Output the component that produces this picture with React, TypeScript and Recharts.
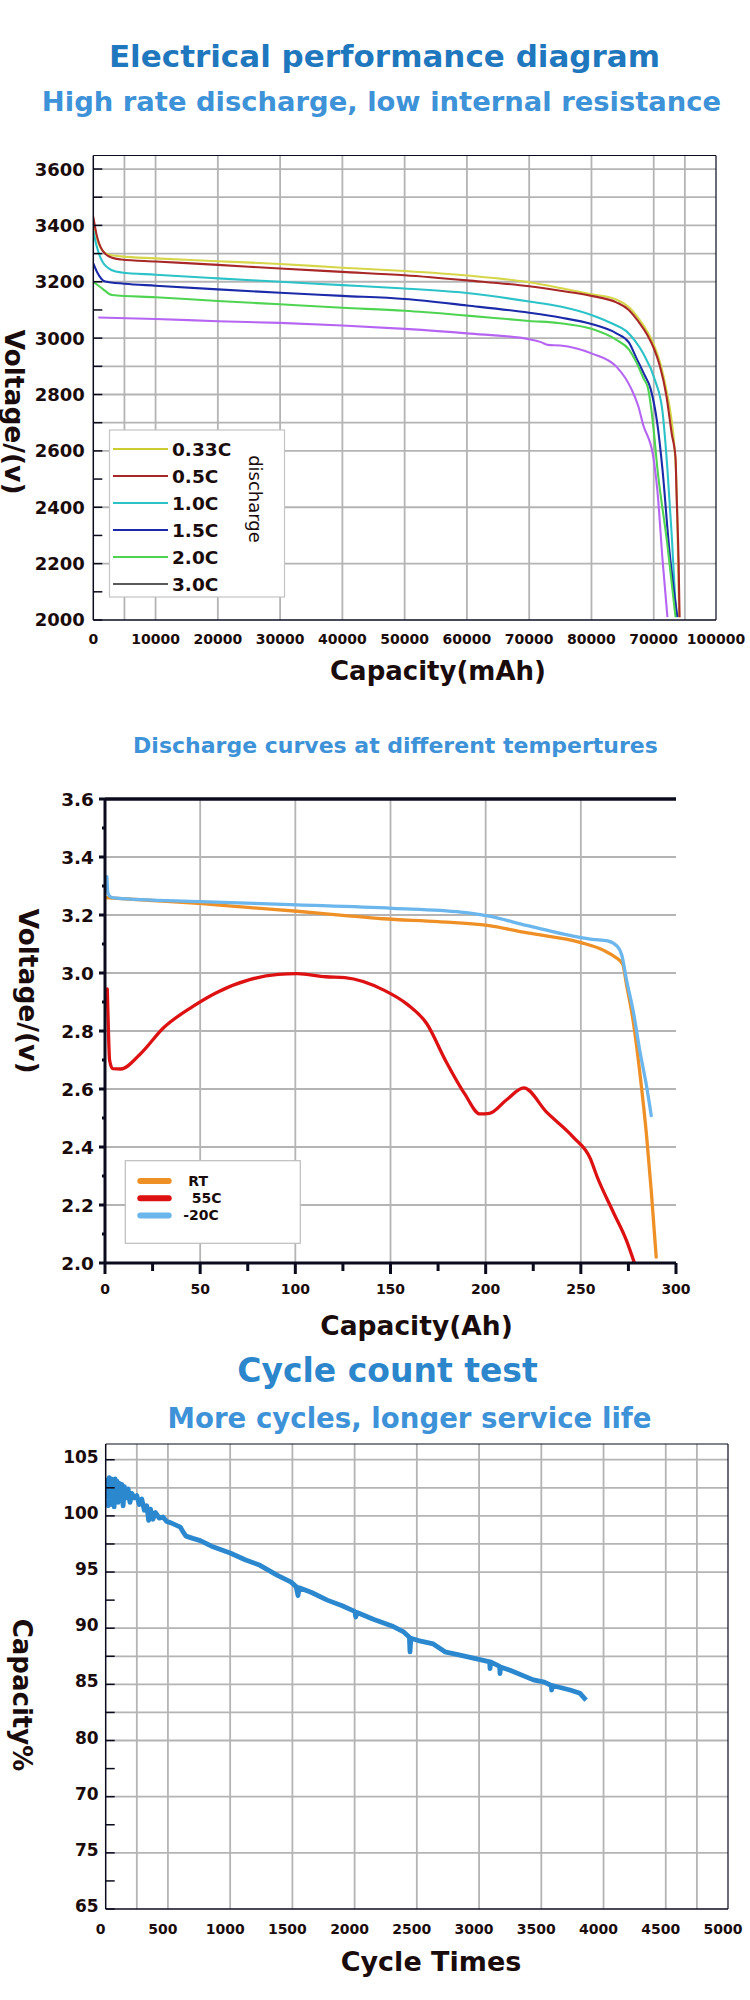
import React from 'react';
import { LineChart, Line, XAxis, YAxis, CartesianGrid, ReferenceLine } from 'recharts';

const FONT = "'DejaVu Sans', Verdana, sans-serif";
const INK = '#1a0c0c';
const AXIS = '#0b0b1e';
const GRID = '#b4b4b4';

type P = [number, number];
const pts = (a: P[]) => a.map(([x, y]) => ({ x, y }));

// ---------- Chart 1: rate discharge ----------
const rateNames = ['0.33C', '0.5C', '1.0C', '1.5C', '2.0C', '3.0C'];
const rateColors = ['#d6d64a', '#a82828', '#2cc3c8', '#1a2aa8', '#4fd452', '#b565f2'];
const rateLegendColors = ['#cccc30', '#a82828', '#2cc3c8', '#1a2aa8', '#4fd452', '#5a5a5a'];

const rate033: P[] = [[0, 3420], [400, 3370], [1200, 3320], [2500, 3296], [4500, 3290], [10000, 3283], [20000, 3273], [30000, 3263], [40000, 3250], [50000, 3238], [60000, 3222], [70000, 3198], [75000, 3178], [80000, 3156], [84000, 3137], [86000, 3110], [87500, 3072], [89000, 3022], [90000, 2978], [91000, 2915], [92000, 2820], [92800, 2720], [93300, 2620], [93700, 2450], [94000, 2100], [94100, 2010]];
const rate05: P[] = [[0, 3430], [500, 3370], [1500, 3310], [3000, 3285], [4500, 3279], [10000, 3272], [20000, 3260], [30000, 3247], [40000, 3235], [50000, 3223], [60000, 3205], [70000, 3184], [75000, 3168], [80000, 3150], [84000, 3127], [86000, 3100], [87500, 3060], [89000, 3010], [90000, 2965], [91000, 2900], [92000, 2800], [92900, 2660], [93500, 2575], [93650, 2460], [94000, 2200], [94150, 2010]];
const rate10: P[] = [[0, 3380], [500, 3330], [1500, 3270], [3000, 3241], [4500, 3233], [10000, 3225], [20000, 3212], [30000, 3200], [40000, 3188], [50000, 3176], [60000, 3160], [70000, 3130], [75000, 3112], [80000, 3082], [83500, 3050], [85600, 3025], [87000, 2990], [88300, 2946], [90200, 2851], [91400, 2741], [92200, 2535], [92900, 2297], [93600, 2010]];
const rate15: P[] = [[0, 3265], [600, 3235], [1900, 3201], [5000, 3193], [10000, 3186], [20000, 3173], [30000, 3161], [40000, 3150], [50000, 3139], [60000, 3116], [70000, 3090], [75000, 3073], [80000, 3050], [84000, 3017], [86000, 2985], [87200, 2930], [88500, 2870], [89500, 2820], [90600, 2693], [91400, 2535], [92500, 2250], [93800, 2010]];
const rate20: P[] = [[0, 3200], [1500, 3175], [3000, 3153], [10000, 3145], [20000, 3132], [30000, 3120], [40000, 3108], [50000, 3097], [60000, 3080], [70000, 3061], [75000, 3053], [80000, 3033], [84000, 2994], [86000, 2960], [87200, 2915], [88300, 2860], [89100, 2820], [89900, 2693], [90600, 2535], [92200, 2266], [93500, 2010]];
const rate30: P[] = [[800, 3073], [10000, 3068], [20000, 3060], [30000, 3054], [40000, 3045], [50000, 3033], [60000, 3017], [70000, 2996], [72000, 2985], [73000, 2976], [75000, 2974], [80000, 2946], [84000, 2899], [86400, 2820], [87500, 2760], [88300, 2693], [89900, 2582], [90600, 2456], [91400, 2218], [92200, 2010]];
const rateSeries = [rate033, rate05, rate10, rate15, rate20, rate30];

const capTicks = [0, 10000, 20000, 30000, 40000, 50000, 60000, 70000, 80000, 90000, 100000];
const capTickLabels = ['0', '10000', '20000', '30000', '40000', '50000', '60000', '70000', '80000', '70000', '100000'];
const voltTicks = [2000, 2100, 2200, 2300, 2400, 2500, 2600, 2700, 2800, 2900, 3000, 3100, 3200, 3300, 3400, 3500, 3600];
const voltTickLabels = ['2000', '', '2200', '', '2400', '', '2600', '', '2800', '', '3000', '', '3200', '', '3400', '', '3600'];
const grid1V = [5000, 10000, 20000, 30000, 40000, 50000, 60000, 70000, 80000, 90000, 95000];
const grid1H = [2200, 2400, 2600, 2700, 2800, 2900, 3000, 3200, 3300, 3400, 3500, 3600];

// ---------- Chart 2: temperature ----------
const tempNames = ['RT', '55C', '-20C'];
const tempColors = ['#ef9027', '#dd1111', '#6bb6ec'];
const tempRT: P[] = [[0, 3.26], [25, 3.25], [51, 3.239], [75, 3.226], [101, 3.213], [125, 3.199], [146, 3.187], [175, 3.177], [201, 3.164], [222, 3.138], [250, 3.105], [262, 3.078], [268, 3.055], [272, 3.03], [274, 2.96], [277.6, 2.83], [281, 2.656], [284.6, 2.434], [287, 2.249], [289.6, 2.02]];
const temp55: P[] = [[1.2, 2.945], [1.8, 2.8], [2.4, 2.7], [4, 2.67], [8.3, 2.669], [18.3, 2.719], [30.9, 2.812], [46, 2.884], [58.5, 2.932], [76, 2.977], [91, 2.995], [101, 2.998], [116, 2.987], [126, 2.984], [146.5, 2.941], [159, 2.891], [169, 2.826], [179, 2.697], [189, 2.583], [197, 2.514], [202, 2.516], [211, 2.563], [220, 2.604], [232, 2.52], [246, 2.434], [255, 2.36], [258.4, 2.3], [267, 2.176], [274, 2.077], [278, 2.003]];
const tempM20: P[] = [[1.0, 3.332], [1.2, 3.3], [1.6, 3.275], [3, 3.262], [6, 3.258], [50, 3.246], [101, 3.235], [151, 3.223], [187, 3.21], [201, 3.197], [222, 3.163], [250, 3.122], [256, 3.116], [264, 3.111], [269, 3.093], [271.5, 3.062], [274, 2.976], [277.6, 2.866], [281, 2.731], [284.6, 2.607], [287, 2.508]];
const tempSeries = [tempRT, temp55, tempM20];

const ahTicks = [0, 25, 50, 75, 100, 125, 150, 175, 200, 225, 250, 275, 300];
const ahTickLabels = ['0', '', '50', '', '100', '', '150', '', '200', '', '250', '', '300'];
const vTicks = [2.0, 2.1, 2.2, 2.3, 2.4, 2.5, 2.6, 2.7, 2.8, 2.9, 3.0, 3.1, 3.2, 3.3, 3.4, 3.5, 3.6];
const vTickLabels = ['2.0', '', '2.2', '', '2.4', '', '2.6', '', '2.8', '', '3.0', '', '3.2', '', '3.4', '', '3.6'];
const grid2V = [50, 100, 150, 200, 250];
const grid2H = [2.2, 2.4, 2.6, 2.8, 3.0, 3.2, 3.4];

// ---------- Chart 3: cycle life ----------
const cycleData: P[] = [[5, 101.5], [12, 103.2], [20, 100.9], [28, 103.4], [36, 101.0], [44, 103.3], [52, 101.3], [60, 103.0], [68, 100.8], [76, 103.3], [84, 101.6], [92, 103.1], [100, 101.2], [110, 102.9], [120, 101.8], [130, 102.8], [140, 100.9], [150, 102.6], [165, 101.6], [180, 102.4], [195, 101.2], [210, 102.0], [230, 101.6], [250, 101.8], [270, 101.0], [290, 101.5], [310, 100.5], [330, 100.9], [345, 99.6], [360, 100.6], [380, 99.7], [400, 100.3], [430, 99.8], [460, 99.9], [490, 99.5], [520, 99.4], [560, 99.2], [600, 99.0], [620, 98.6], [645, 98.2], [700, 98.0], [760, 97.8], [850, 97.3], [1000, 96.7], [1120, 96.1], [1240, 95.6], [1380, 94.7], [1490, 94.1], [1530, 93.7], [1545, 92.9], [1555, 93.6], [1650, 93.2], [1780, 92.5], [1900, 92.0], [2000, 91.5], [2010, 91.0], [2020, 91.4], [2150, 90.8], [2300, 90.2], [2390, 89.7], [2440, 89.2], [2445, 87.9], [2452, 89.1], [2512, 88.9], [2632, 88.6], [2726, 87.9], [2847, 87.6], [3007, 87.2], [3085, 87.0], [3088, 86.4], [3092, 87.0], [3165, 86.6], [3168, 85.95], [3172, 86.55], [3249, 86.25], [3436, 85.4], [3524, 85.2], [3580, 84.9], [3583, 84.5], [3587, 84.9], [3731, 84.5], [3811, 84.2], [3851, 83.7], [3860, 83.6]];
const cycleColor = '#2b88cf';
const cycTicks = [0, 500, 1000, 1500, 2000, 2500, 3000, 3500, 4000, 4500, 5000];
const cycTickLabels = ['0', '500', '1000', '1500', '2000', '2500', '3000', '3500', '4000', '4500', '5000'];
const pctTicks = [65, 67.5, 70, 72.5, 75, 77.5, 80, 82.5, 85, 87.5, 90, 92.5, 95, 97.5, 100, 102.5, 105];
const pctTickLabels = ['65', '', '75', '', '70', '', '80', '', '85', '', '90', '', '95', '', '100', '', '105'];
const grid3V = [250, 500, 1000, 1500, 2000, 2500, 3000, 3500, 4000, 4500, 4750];
const grid3H = [70, 75, 80, 82.5, 85, 87.5, 90, 95, 97.5, 100, 102.5, 105];

const labelOf = (ticks: number[], labels: string[], v: number) => {
  const i = ticks.findIndex((t) => Math.abs(t - v) < 1e-6);
  return i >= 0 ? labels[i] : '';
};

// ---------- custom ticks ----------
const makeYTick = (ticks: number[], labels: string[], opts: { inward: boolean; major: number; minor: number; gap: number; size: number; dy?: number; sw: number }) =>
  (props: any) => {
    const { x, y, payload } = props;
    const lab = labelOf(ticks, labels, payload.value);
    const len = lab ? opts.major : opts.minor;
    return (
      <g>
        <line x1={x} x2={opts.inward ? x + len : x - len} y1={y} y2={y} stroke={AXIS} strokeWidth={opts.sw} />
        {lab && (
          <text x={x - opts.gap} y={y + (opts.dy || 0)} dy="0.36em" textAnchor="end" fontFamily={FONT} fontWeight="bold" fontSize={opts.size} fill={INK}>
            {lab}
          </text>
        )}
      </g>
    );
  };

const makeXTick = (ticks: number[], labels: string[], opts: { base: number; size: number; major: number; minor: number; dx?: number; sw: number }) =>
  (props: any) => {
    const { x, y, payload } = props;
    const lab = labelOf(ticks, labels, payload.value);
    const len = lab ? opts.major : opts.minor;
    return (
      <g>
        {len > 0 && <line x1={x} x2={x} y1={y} y2={y + len} stroke={AXIS} strokeWidth={opts.sw} />}
        {lab && (
          <text x={x + (opts.dx || 0)} y={y + opts.base} textAnchor="middle" fontFamily={FONT} fontWeight="bold" fontSize={opts.size} fill={INK}>
            {lab}
          </text>
        )}
      </g>
    );
  };

const y1Tick = makeYTick(voltTicks, voltTickLabels, { inward: true, major: 9, minor: 9, gap: 8.5, size: 18, sw: 1.5 });
const x1Tick = makeXTick(capTicks, capTickLabels, { base: 23.5, size: 14, major: 0, minor: 0, sw: 1 });
const y2Tick = makeYTick(vTicks, vTickLabels, { inward: false, major: 6, minor: 3, gap: 11, size: 18.5, sw: 3 });
const x2Tick = makeXTick(ahTicks, ahTickLabels, { base: 31, size: 14, major: 11, minor: 8, sw: 3 });
const y3Tick = makeYTick(pctTicks, pctTickLabels, { inward: true, major: 9, minor: 9, gap: 7, size: 17, dy: -3, sw: 1.5 });
const x3Tick = makeXTick(cycTicks, cycTickLabels, { base: 24.8, size: 14, major: 0, minor: 0, dx: -5, sw: 1 });

const abs = (top: number): React.CSSProperties => ({ position: 'absolute', left: 0, top });

export default function App() {
  return (
    <div style={{ position: 'absolute', left: 0, top: 0, width: 750, height: 2000, background: '#fff', overflow: 'hidden' }}>
      {/* Chart 1 */}
      <div style={abs(140)}>
        <LineChart width={750} height={530} margin={{ top: 15.5, right: 34, bottom: 20, left: 33.3 }}>
          <CartesianGrid stroke={GRID} strokeWidth={1.8} horizontalValues={grid1H} verticalValues={grid1V} />
          <XAxis type="number" dataKey="x" domain={[0, 100000]} ticks={capTicks} interval={0} height={30} tickSize={0} tickMargin={0} axisLine={{ stroke: AXIS, strokeWidth: 1.5 }} tickLine={false} tick={x1Tick} allowDataOverflow />
          <YAxis type="number" dataKey="y" domain={[2000, 3648]} ticks={voltTicks} interval={0} width={60} tickSize={0} tickMargin={0} axisLine={{ stroke: AXIS, strokeWidth: 1.5 }} tickLine={false} tick={y1Tick} allowDataOverflow />
          <ReferenceLine y={3648} stroke={AXIS} strokeWidth={1.2} />
          <ReferenceLine x={100000} stroke={AXIS} strokeWidth={1.2} />
          {rateSeries.map((s, i) => (
            <Line key={rateNames[i]} name={rateNames[i]} data={pts(s)} dataKey="y" type="monotone" stroke={rateColors[i]} strokeWidth={2.1} dot={false} activeDot={false} isAnimationActive={false} />
          ))}
        </LineChart>
      </div>

      {/* Chart 2 */}
      <div style={abs(780)}>
        <LineChart width={750} height={520} margin={{ top: 19, right: 74, bottom: 7, left: 45 }}>
          <CartesianGrid stroke={GRID} strokeWidth={1.8} horizontalValues={grid2H} verticalValues={grid2V} />
          <XAxis type="number" dataKey="x" domain={[0, 300]} ticks={ahTicks} interval={0} height={30} tickSize={0} tickMargin={0} axisLine={{ stroke: AXIS, strokeWidth: 3 }} tickLine={false} tick={x2Tick} allowDataOverflow />
          <YAxis type="number" dataKey="y" domain={[2.0, 3.6]} ticks={vTicks} interval={0} width={60} tickSize={0} tickMargin={0} axisLine={{ stroke: AXIS, strokeWidth: 3 }} tickLine={false} tick={y2Tick} allowDataOverflow />
          <ReferenceLine y={3.6} stroke={AXIS} strokeWidth={3.5} />
          {tempSeries.map((s, i) => (
            <Line key={tempNames[i]} name={tempNames[i]} data={pts(s)} dataKey="y" type="monotone" stroke={tempColors[i]} strokeWidth={3.3} strokeLinecap="round" dot={false} activeDot={false} isAnimationActive={false} />
          ))}
        </LineChart>
      </div>

      {/* Chart 3 */}
      <div style={abs(1430)}>
        <LineChart width={750} height={530} margin={{ top: 14, right: 22, bottom: 21, left: 45.7 }}>
          <CartesianGrid stroke={GRID} strokeWidth={1.8} horizontalValues={grid3H} verticalValues={grid3V} />
          <XAxis type="number" dataKey="x" domain={[0, 5000]} ticks={cycTicks} interval={0} height={30} tickSize={0} tickMargin={0} axisLine={{ stroke: AXIS, strokeWidth: 1.5 }} tickLine={false} tick={x3Tick} allowDataOverflow />
          <YAxis type="number" dataKey="y" domain={[65, 106.4]} ticks={pctTicks} interval={0} width={60} tickSize={0} tickMargin={0} axisLine={{ stroke: AXIS, strokeWidth: 1.5 }} tickLine={false} tick={y3Tick} allowDataOverflow />
          <ReferenceLine y={106.4} stroke={AXIS} strokeWidth={1.2} />
          <ReferenceLine x={5000} stroke={AXIS} strokeWidth={1.2} />
          <Line name="Capacity" data={pts(cycleData)} dataKey="y" type="linear" stroke={cycleColor} strokeWidth={4.8} strokeLinejoin="round" dot={false} activeDot={false} isAnimationActive={false} />
        </LineChart>
      </div>

      {/* Overlay: titles, axis titles, legends */}
      <svg width={750} height={2000} style={{ position: 'absolute', left: 0, top: 0, pointerEvents: 'none' }}>
        <g fontFamily={FONT} fontWeight="bold" textAnchor="middle">
          <text x={384.5} y={66.5} fontSize={31} fill="#1f77bd">Electrical performance diagram</text>
          <text x={381.5} y={110.5} fontSize={27.4} fill="#3d92d8">High rate discharge, low internal resistance</text>
          <text x={395.5} y={753.3} fontSize={22} fill="#3d92d8">Discharge curves at different tempertures</text>
          <text x={387.5} y={1382} fontSize={33} fill="#2b86cc">Cycle count test</text>
          <text x={409.6} y={1428} fontSize={27.6} fill="#3d92d8">More cycles, longer service life</text>

          <text x={438} y={680} fontSize={26} fill={INK}>Capacity(mAh)</text>
          <text x={416.5} y={1335} fontSize={26.5} fill={INK}>Capacity(Ah)</text>
          <text x={431} y={1971} fontSize={27} fill={INK}>Cycle Times</text>

          <text transform="translate(5,412) rotate(90)" fontSize={26.5} fill={INK}>Voltage/(v)</text>
          <text transform="translate(19,991) rotate(90)" fontSize={26.5} fill={INK}>Voltage/(v)</text>
          <text transform="translate(13,1695) rotate(90)" fontSize={26} fill={INK}>Capacity%</text>
        </g>

        {/* Legend chart 1 */}
        <rect x={109.5} y={430} width={175} height={167} fill="#fff" stroke="#c4c4c4" strokeWidth={1.2} />
        {rateNames.map((n, i) => (
          <g key={n}>
            <line x1={113} x2={168} y1={449 + i * 27} y2={449 + i * 27} stroke={rateLegendColors[i]} strokeWidth={2.2} />
            <text x={172} y={449 + i * 27} dy="0.36em" fontFamily={FONT} fontWeight="bold" fontSize={18.5} fill={INK}>{n}</text>
          </g>
        ))}
        <text transform="translate(249,499) rotate(90)" textAnchor="middle" fontFamily={FONT} fontSize={18} fill={INK}>discharge</text>

        {/* Legend chart 2 */}
        <rect x={125.3} y={1160.7} width={175} height={82.6} fill="#fff" stroke="#bdbdbd" strokeWidth={1.2} />
        {tempNames.map((n, i) => (
          <g key={n}>
            <line x1={140.3} x2={168.7} y1={1181 + i * 17.2} y2={1181 + i * 17.2} stroke={tempColors[i]} strokeWidth={6} strokeLinecap="round" />
            <text x={[188.3, 191.7, 183.3][i]} y={1181 + i * 17.2} dy="0.36em" fontFamily={FONT} fontWeight="bold" fontSize={14} fill={INK}>{n}</text>
          </g>
        ))}
      </svg>
    </div>
  );
}
